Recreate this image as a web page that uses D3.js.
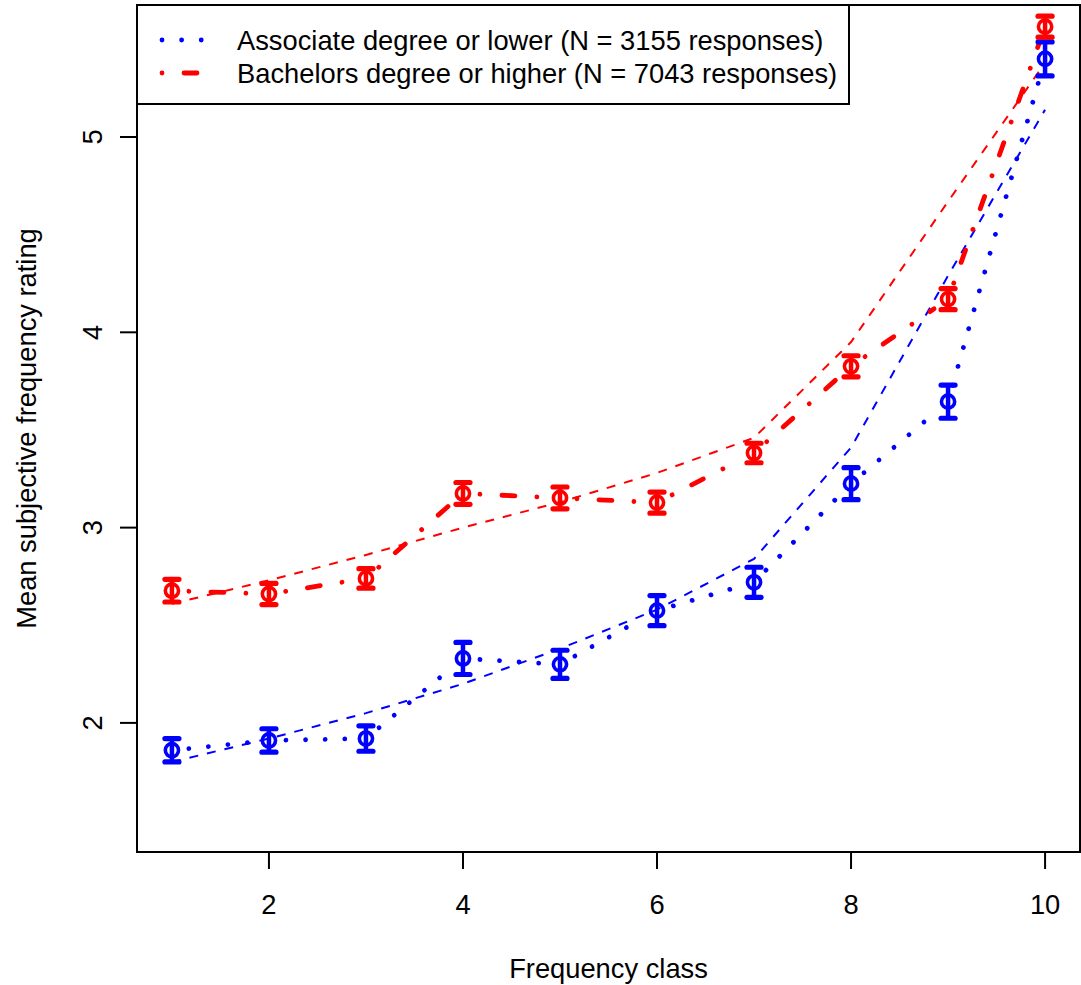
<!DOCTYPE html>
<html>
<head>
<meta charset="utf-8">
<script src="https://cdn.jsdelivr.net/npm/d3@7"></script>
<style>
  html, body { margin: 0; padding: 0; background: #ffffff; }
  svg { display: block; }
  text { font-family: "Liberation Sans", Arial, Helvetica, sans-serif; fill: #000; }
</style>
</head>
<body>
<svg id="chart" width="1081" height="985"></svg>
<script>
// Frequency classes (x) and per-group mean ratings, standard errors and fitted curves
const freqClass = [1, 2, 3, 4, 5, 6, 7, 8, 9, 10];

const assocMean = [1.86, 1.91, 1.92, 2.33, 2.30, 2.575, 2.72, 3.225, 3.645, 5.40];
const assocSE   = [0.06, 0.06, 0.065, 0.082, 0.072, 0.077, 0.077, 0.082, 0.085, 0.087];
const assocFit  = [1.80, 1.92, 2.05, 2.20, 2.38, 2.58, 2.84, 3.41, 4.29, 5.14];

const bachMean  = [2.677, 2.66, 2.74, 3.175, 3.152, 3.128, 3.382, 3.826, 4.17, 5.565];
const bachSE    = [0.058, 0.054, 0.05, 0.056, 0.056, 0.054, 0.05, 0.054, 0.054, 0.054];
const bachFit   = [2.61, 2.73, 2.86, 3.00, 3.13, 3.28, 3.46, 3.95, 4.67, 5.38];

const xTicks = [2, 4, 6, 8, 10];
const yTicks = [2, 3, 4, 5];

const legendLabels = [
  "Associate degree or lower (N = 3155 responses)",
  "Bachelors degree or higher (N = 7043 responses)"
];
const xTitle = "Frequency class";
const yTitle = "Mean subjective frequency rating";

// ---- layout ----
const plotLeft = 137, plotRight = 1080, plotTop = 5, plotBottom = 852;
const fontSize = 27.3;

const x = d3.scaleLinear().domain([0.64, 10.36]).range([plotLeft, plotRight]);
const y = d3.scaleLinear().domain([1.339, 5.676]).range([plotBottom, plotTop]);

const svg = d3.select("#chart");

// line styles
const styles = {
  assoc: { color: "#0000ff", dash: "0.01,19.6", width: 4.8 },
  bach:  { color: "#ff0000", dash: "0.01,22,13,22", width: 4.8 }
};

const series = [
  { key: "assoc", mean: assocMean, se: assocSE, fit: assocFit },
  { key: "bach",  mean: bachMean,  se: bachSE,  fit: bachFit }
];

// ---- thin dashed fitted curves ----
series.forEach(s => {
  const st = styles[s.key];
  svg.append("path")
    .datum(freqClass.map((c, i) => [c, s.fit[i]]))
    .attr("d", d3.line().x(d => x(d[0])).y(d => y(d[1])))
    .attr("fill", "none")
    .attr("stroke", st.color)
    .attr("stroke-width", 2)
    .attr("stroke-dasharray", "9,9")
    .attr("stroke-linecap", "butt");
});

// ---- connecting lines between means, with a gap around each point ----
const gap = 17;
series.forEach(s => {
  const st = styles[s.key];
  const g = svg.append("g");
  for (let i = 0; i < freqClass.length - 1; i++) {
    const x1 = x(freqClass[i]), y1 = y(s.mean[i]);
    const x2 = x(freqClass[i + 1]), y2 = y(s.mean[i + 1]);
    const len = Math.hypot(x2 - x1, y2 - y1);
    if (len <= 2 * gap) continue;
    const ux = (x2 - x1) / len, uy = (y2 - y1) / len;
    g.append("line")
      .attr("x1", x1 + ux * gap).attr("y1", y1 + uy * gap)
      .attr("x2", x2 - ux * gap).attr("y2", y2 - uy * gap)
      .attr("stroke", st.color)
      .attr("stroke-width", st.width)
      .attr("stroke-linecap", "round")
      .attr("stroke-dasharray", st.dash);
  }
});

// ---- error bars and open-circle markers ----
series.forEach(s => {
  const st = styles[s.key];
  const g = svg.append("g");
  freqClass.forEach((c, i) => {
    const cx = x(c);
    const yLo = y(s.mean[i] - s.se[i]);
    const yHi = y(s.mean[i] + s.se[i]);
    g.append("line")
      .attr("x1", cx).attr("x2", cx).attr("y1", yLo).attr("y2", yHi)
      .attr("stroke", st.color).attr("stroke-width", 4.5);
    [yLo, yHi].forEach(yy => {
      g.append("line")
        .attr("x1", cx - 7).attr("x2", cx + 7).attr("y1", yy).attr("y2", yy)
        .attr("stroke", st.color).attr("stroke-width", 5.2)
        .attr("stroke-linecap", "round");
    });
    g.append("circle")
      .attr("cx", cx).attr("cy", y(s.mean[i])).attr("r", 6.6)
      .attr("fill", "none").attr("stroke", st.color).attr("stroke-width", 3.6);
  });
});

// ---- plot frame ----
svg.append("rect")
  .attr("x", plotLeft).attr("y", plotTop)
  .attr("width", plotRight - plotLeft).attr("height", plotBottom - plotTop)
  .attr("fill", "none").attr("stroke", "#000").attr("stroke-width", 2);

// ---- x axis ----
const xAxis = svg.append("g");
xTicks.forEach(t => {
  xAxis.append("line")
    .attr("x1", x(t)).attr("x2", x(t)).attr("y1", plotBottom).attr("y2", plotBottom + 17)
    .attr("stroke", "#000").attr("stroke-width", 2);
  xAxis.append("text")
    .attr("x", x(t)).attr("y", 914)
    .attr("text-anchor", "middle").attr("font-size", fontSize)
    .text(t);
});
svg.append("text")
  .attr("x", (plotLeft + plotRight) / 2).attr("y", 978)
  .attr("text-anchor", "middle").attr("font-size", fontSize)
  .text(xTitle);

// ---- y axis ----
const yAxis = svg.append("g");
yTicks.forEach(t => {
  yAxis.append("line")
    .attr("x1", plotLeft - 17).attr("x2", plotLeft).attr("y1", y(t)).attr("y2", y(t))
    .attr("stroke", "#000").attr("stroke-width", 2);
  yAxis.append("text")
    .attr("transform", `translate(102,${y(t)}) rotate(-90)`)
    .attr("text-anchor", "middle").attr("font-size", fontSize)
    .text(t);
});
svg.append("text")
  .attr("transform", `translate(36,${(plotTop + plotBottom) / 2}) rotate(-90)`)
  .attr("text-anchor", "middle").attr("font-size", fontSize)
  .text(yTitle);

// ---- legend ----
const legend = svg.append("g");
legend.append("rect")
  .attr("x", plotLeft).attr("y", plotTop)
  .attr("width", 712).attr("height", 99)
  .attr("fill", "#fff").attr("stroke", "#000").attr("stroke-width", 2);
const legendRows = [40, 73];
series.forEach((s, i) => {
  const st = styles[s.key];
  legend.append("line")
    .attr("x1", 162).attr("x2", 206)
    .attr("y1", legendRows[i]).attr("y2", legendRows[i])
    .attr("stroke", st.color).attr("stroke-width", st.width)
    .attr("stroke-linecap", "round").attr("stroke-dasharray", st.dash);
  legend.append("text")
    .attr("x", 237).attr("y", legendRows[i] + 9.5)
    .attr("font-size", fontSize)
    .text(legendLabels[i]);
});
</script>
</body>
</html>
